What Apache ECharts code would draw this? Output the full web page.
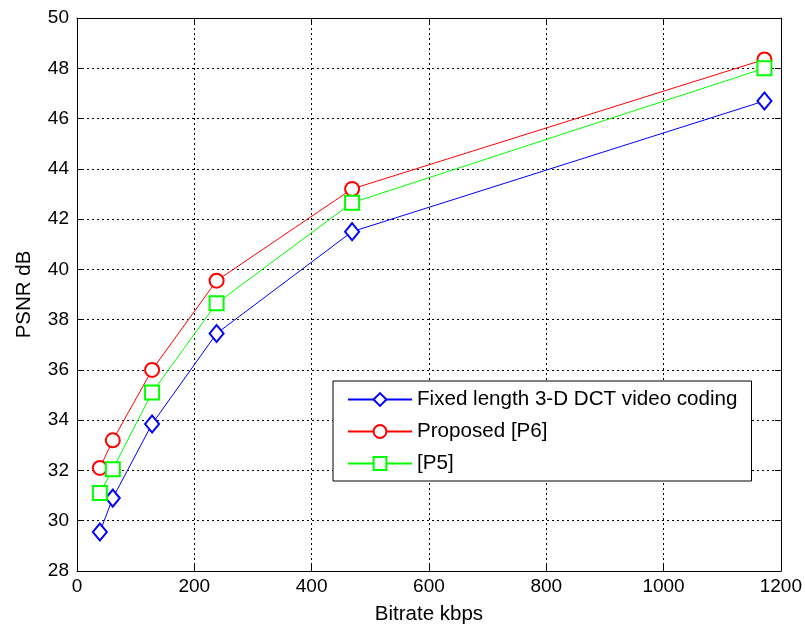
<!DOCTYPE html>
<html>
<head>
<meta charset="utf-8">
<script src="https://cdn.jsdelivr.net/npm/echarts@6/dist/echarts.min.js"></script>
<style>html,body{margin:0;padding:0;background:#fff}#c{width:805px;height:630px}</style>
</head>
<body>
<div id="c"></div>
<script>
const bitrate = [39, 61, 128, 238, 469, 1172];
const fixedDCT = [29.55, 30.9, 33.85, 37.45, 41.5, 46.7];
const proposedP6 = [32.1, 33.2, 36.0, 39.55, 43.2, 48.35];
const p5 = [31.1, 32.05, 35.1, 38.65, 42.65, 48.0];
const seriesNames = ['Fixed length 3-D DCT video coding', 'Proposed [P6]', '[P5]'];
const xTicks = [0, 200, 400, 600, 800, 1000, 1200];
const yTicks = [28, 30, 32, 34, 36, 38, 40, 42, 44, 46, 48, 50];

const font = 'Liberation Sans, Arial, Helvetica, sans-serif';
const pair = (ys) => bitrate.map((x, i) => [x, ys[i]]);
const gridLine = { show: true, lineStyle: { color: '#000', type: [2, 3], width: 1 } };
const chart = echarts.init(document.getElementById('c'), null, { renderer: 'canvas' });
const mk = (name, data, color, symbol, size) => ({
  name, type: 'line', data, symbol, symbolSize: size, showSymbol: true,
  lineStyle: { color, width: 1 }, itemStyle: { color, borderColor: color, borderWidth: 1 },
  animation: false, z: 3
});
chart.setOption({
  animation: false,
  backgroundColor: '#fff',
  grid: { left: 77, right: 20, top: 18, bottom: 56, show: false },
  legend: {
    orient: 'vertical', left: 333, top: 381,
    backgroundColor: '#fff', borderColor: '#000', borderWidth: 1,
    padding: [8, 14, 7, 14], itemGap: 11, itemWidth: 64, itemHeight: 16,
    textStyle: { fontFamily: font, fontSize: 20.6, color: '#000' },
    data: seriesNames
  },
  xAxis: [{
    type: 'value', min: xTicks[0], max: xTicks[xTicks.length - 1], interval: 200,
    name: 'Bitrate kbps', nameLocation: 'middle', nameGap: 33,
    nameTextStyle: { fontFamily: font, fontSize: 20.5, color: '#000' },
    axisLine: { show: true, onZero: false, lineStyle: { color: '#000', width: 1 } },
    axisTick: { show: true, inside: true, length: 6, lineStyle: { color: '#000' } },
    axisLabel: { fontFamily: font, fontSize: 19, color: '#000', margin: 6, formatter: (v) => String(v) },
    splitLine: gridLine
  }, {
    type: 'value', position: 'top', min: 0, max: 1200, interval: 200,
    axisLine: { show: true, onZero: false, lineStyle: { color: '#000', width: 1 } },
    axisTick: { show: true, inside: true, length: 6, lineStyle: { color: '#000' } },
    axisLabel: { show: false }, splitLine: { show: false }
  }],
  yAxis: [{
    type: 'value', min: yTicks[0], max: yTicks[yTicks.length - 1], interval: 2,
    name: 'PSNR dB', nameLocation: 'middle', nameGap: 42,
    nameTextStyle: { fontFamily: font, fontSize: 20.5, color: '#000' },
    axisLine: { show: true, onZero: false, lineStyle: { color: '#000', width: 1 } },
    axisTick: { show: true, inside: true, length: 6, lineStyle: { color: '#000' } },
    axisLabel: { fontFamily: font, fontSize: 19, color: '#000', margin: 8, formatter: (v) => String(v) },
    splitLine: gridLine
  }, {
    type: 'value', position: 'right', min: 28, max: 50, interval: 2,
    axisLine: { show: true, onZero: false, lineStyle: { color: '#000', width: 1 } },
    axisTick: { show: true, inside: true, length: 6, lineStyle: { color: '#000' } },
    axisLabel: { show: false }, splitLine: { show: false }
  }],
  series: [
    mk(seriesNames[0], pair(fixedDCT), '#0000ff', 'emptyDiamond', [14, 17]),
    mk(seriesNames[1], pair(proposedP6), '#ff0000', 'emptyCircle', 14),
    mk(seriesNames[2], pair(p5), '#00ff00', 'emptyRect', 14)
  ]
});
</script>
</body>
</html>
